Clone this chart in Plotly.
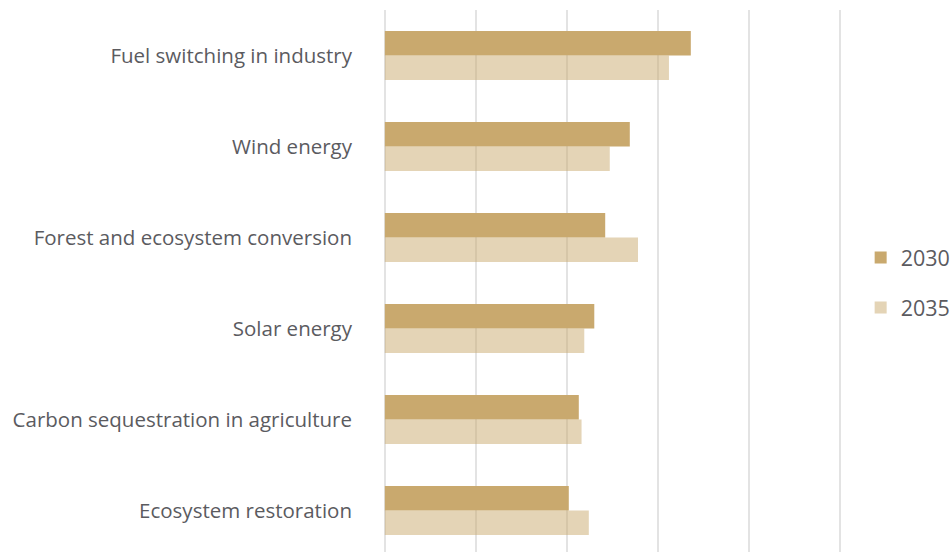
import plotly.graph_objects as go

categories = [
    "Fuel switching in industry",
    "Wind energy",
    "Forest and ecosystem conversion",
    "Solar energy",
    "Carbon sequestration in agriculture",
    "Ecosystem restoration",
]
values_2030 = [3.36, 2.69, 2.42, 2.30, 2.13, 2.02]
values_2035 = [3.12, 2.47, 2.78, 2.19, 2.16, 2.24]

dark = "rgb(201,169,110)"
light = "rgba(201,169,110,0.5)"
text_color = "#5b5b5f"

fig = go.Figure()
fig.add_trace(go.Bar(
    y=categories, x=values_2030, name="2030", orientation="h",
    marker=dict(color=dark, line=dict(width=0)), legendgroup="a",
))
fig.add_trace(go.Bar(
    y=categories, x=values_2035, name="2035", orientation="h",
    marker=dict(color=light, line=dict(width=0)), legendgroup="b",
))

fig.update_layout(
    width=951, height=552,
    margin=dict(l=383, r=109, t=10, b=0, autoexpand=False),
    paper_bgcolor="white", plot_bgcolor="white",
    barmode="group", bargap=0.46, bargroupgap=0,
    font=dict(family="Open Sans", size=20.5, color=text_color),
    legend=dict(
        xref="container", yref="container",
        x=0.905, xanchor="left", y=0.488, yanchor="middle",
        font=dict(size=21.5, color=text_color),
        tracegroupgap=19, itemwidth=30,
        bgcolor="rgba(0,0,0,0)",
    ),
    showlegend=True,
)
fig.update_xaxes(
    range=[-0.02, 5.02], dtick=1, tick0=0, showgrid=True, gridcolor="#e3e3e3",
    gridwidth=2, showticklabels=False, zeroline=False, showline=False, ticks="",
)
fig.update_yaxes(
    range=[5.456, -0.5], showgrid=False, zeroline=False, showline=False,
    ticks="", ticklabelstandoff=30, tickfont=dict(size=20.5, color=text_color),
)

fig.write_html("out.html")
